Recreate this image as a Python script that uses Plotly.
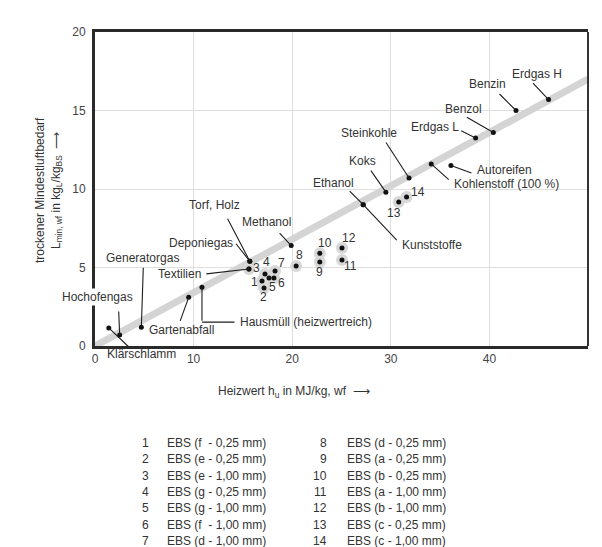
import plotly.graph_objects as go

# ---------------- data ----------------
fuel_names = ["Erdgas H", "Benzin", "Benzol", "Erdgas L", "Steinkohle", "Koks",
              "Ethanol", "Kunststoffe", "Kohlenstoff (100 %)", "Autoreifen",
              "Methanol", "Torf, Holz", "Deponiegas", "Textilien", "Generatorgas",
              "Hochofengas", "Klärschlamm", "Gartenabfall", "Hausmüll (heizwertreich)"]
fuel_hu = [46.0, 42.7, 40.4, 38.6, 31.85, 29.5, 27.2, 27.2, 34.1, 36.1,
           19.9, 15.7, 15.7, 15.6, 4.7, 2.5, 1.4, 9.5, 10.85]
fuel_lmin = [15.7, 15.0, 13.6, 13.25, 10.7, 9.8, 9.0, 9.0, 11.6, 11.5,
             6.4, 5.4, 5.4, 4.9, 1.2, 0.7, 1.15, 3.1, 3.75]

ebs_ids = list(range(1, 15))
ebs_desc = ["EBS (f  - 0,25 mm)", "EBS (e - 0,25 mm)", "EBS (e - 1,00 mm)",
            "EBS (g - 0,25 mm)", "EBS (g - 1,00 mm)", "EBS (f  - 1,00 mm)",
            "EBS (d - 1,00 mm)", "EBS (d - 0,25 mm)", "EBS (a - 0,25 mm)",
            "EBS (b - 0,25 mm)", "EBS (a - 1,00 mm)", "EBS (b - 1,00 mm)",
            "EBS (c - 0,25 mm)", "EBS (c - 1,00 mm)"]
ebs_hu = [16.94, 17.14, 15.62, 17.24, 17.65, 18.15, 18.26, 20.4, 22.8, 22.8,
          25.05, 25.05, 30.8, 31.6]
ebs_lmin = [4.14, 3.69, 4.90, 4.59, 4.33, 4.33, 4.78, 5.1, 5.35, 5.9,
            5.48, 6.24, 9.17, 9.49]

trend_hu = [0, 50]
trend_lmin = [0, 17]

x_ticks = [0, 10, 20, 30, 40]
y_ticks = [0, 5, 10, 15, 20]

# ---------------- layout helpers (pixel offsets, style only) ----------------
FONT = "Liberation Sans, Arial, Helvetica, sans-serif"
TXT = "#333333"
LINE = "#1e1e1e"

# name: (tail dx, tail dy, label dx, label dy, anchor)
label_layout = {
    "Erdgas H": (-17, -18, -12, -26, "center"),
    "Benzin": (-18, -18, -29, -27, "center"),
    "Benzol": (-28, -16, -30, -23, "center"),
    "Erdgas L": (-16, -8, -15, -11, "right"),
    "Steinkohle": (-24, -37, -40, -45, "center"),
    "Koks": (-16, -23, -23, -31, "center"),
    "Ethanol": (-15, -15, -30, -22, "center"),
    "Kunststoffe": (35, 37, 37, 40, "left"),
    "Kohlenstoff (100 %)": (19, 17, 21, 20, "left"),
    "Autoreifen": (22, 8, 24, 5, "left"),
    "Methanol": (-13, -14, -25, -24, "center"),
    "Torf, Holz": (-23, -44, -35, -56, "center"),
    "Deponiegas": (-15, -19, -15, -18, "right"),
    "Textilien": (-44, 5, -46, 5, "right"),
    "Generatorgas": (2, -61, 1, -69, "center"),
    "Hochofengas": (-1, -25, -22, -38, "center"),
    "Klärschlamm": (21, 20, 33, 26, "center"),
    "Gartenabfall": (-9, 25, -7, 33, "center"),
    "Hausmüll (heizwertreich)": (0, 35, 36, 35, "left"),
}

ebs_label_offset = [(-8, 1), (-1, 9), (7, -1), (2, -12), (3, 9), (8, 5), (6, -8),
                    (3, -11), (0, 10), (5, -10), (9, 6), (7, -10), (-5, 11), (11, -5)]

# page body has an 8px margin: figure coordinates = screen - 8
OFF = 8
PL, PT, PW, PH = 95 - OFF, 32 - OFF, 493, 314
FIG_W, FIG_H = 602 - OFF, 547 - OFF


def px2paper(px, py):
    """screen pixel -> paper coords"""
    return (px - OFF - PL) / PW, (PT + PH - (py - OFF)) / PH


fig = go.Figure()

fig.add_trace(go.Scatter(x=trend_hu, y=trend_lmin, mode="lines",
                         line=dict(color="#d4d4d4", width=7), hoverinfo="skip",
                         showlegend=False))
fig.add_trace(go.Scatter(x=ebs_hu, y=ebs_lmin, mode="markers",
                         marker=dict(size=12, color="#d8d8d8"), showlegend=False))
fig.add_trace(go.Scatter(x=ebs_hu, y=ebs_lmin, mode="markers",
                         marker=dict(size=5, color="#111111"), showlegend=False))
fig.add_trace(go.Scatter(x=fuel_hu, y=fuel_lmin, mode="markers",
                         marker=dict(size=5, color="#111111"), showlegend=False))

ann = []
for name, hx, ly in zip(fuel_names, fuel_hu, fuel_lmin):
    tdx, tdy, ldx, ldy, anc = label_layout[name]
    ann.append(dict(x=hx, y=ly, xref="x", yref="y", text="", showarrow=True,
                    ax=tdx, ay=tdy, arrowhead=0, arrowwidth=1.1, arrowcolor=LINE,
                    standoff=0, startstandoff=0))
    extra = {}
    if name == "Hochofengas":
        extra = dict(bgcolor="white", borderpad=1)
    ann.append(dict(x=hx, y=ly, xref="x", yref="y", text=name, showarrow=False,
                    xshift=ldx, yshift=-ldy, xanchor=anc, yanchor="middle",
                    font=dict(family=FONT, size=12, color=TXT), **extra))
    if name == "Hausmüll (heizwertreich)":
        ann.append(dict(x=hx, y=ly, xref="x", yref="y", text="", showarrow=True,
                        ax=34, ay=0, yshift=-tdy, arrowhead=0, arrowwidth=1.1,
                        arrowcolor=LINE, standoff=0))

for i, (hx, ly) in enumerate(zip(ebs_hu, ebs_lmin)):
    dx, dy = ebs_label_offset[i]
    ann.append(dict(x=hx, y=ly, xref="x", yref="y", text=str(ebs_ids[i]),
                    showarrow=False, xshift=dx, yshift=-dy,
                    xanchor="center", yanchor="middle",
                    font=dict(family=FONT, size=12, color=TXT)))

# axis titles
tx, ty = px2paper(294, 392)
ann.append(dict(x=tx, y=ty, xref="paper", yref="paper", showarrow=False,
                xanchor="center", yanchor="middle",
                text="Heizwert h<sub>u</sub> in MJ/kg, wf  ⟶",
                font=dict(family=FONT, size=12, color=TXT)))
tx, ty = px2paper(48, 190)
ann.append(dict(x=tx, y=ty, xref="paper", yref="paper", showarrow=False,
                textangle=-90, xanchor="center", yanchor="middle",
                text="trockener Mindestluftbedarf<br>L<sub>min, wf</sub> in kg<sub>L</sub>/kg<sub>BS</sub>  ⟶",
                font=dict(family=FONT, size=12, color=TXT)))

# EBS list
for i in range(14):
    col = i // 7
    row = i % 7
    py = 443 + row * 16.3
    nx = 151 if col == 0 else 329
    dxp = 165 if col == 0 else 345
    x1, y1 = px2paper(nx, py)
    x2, _ = px2paper(dxp, py)
    ann.append(dict(x=x1, y=y1, xref="paper", yref="paper", showarrow=False,
                    text=str(ebs_ids[i]), xanchor="right", yanchor="middle",
                    font=dict(family=FONT, size=12, color=TXT)))
    ann.append(dict(x=x2, y=y1, xref="paper", yref="paper", showarrow=False,
                    text=ebs_desc[i], xanchor="left", yanchor="middle",
                    font=dict(family=FONT, size=12, color=TXT)))

shapes = [
    dict(type="line", xref="paper", yref="paper", x0=1, x1=1, y0=0, y1=1,
         line=dict(color="#333333", width=2)),
]

fig.update_layout(
    width=FIG_W, height=FIG_H,
    margin=dict(l=PL, r=FIG_W - PL - PW, t=PT, b=FIG_H - PT - PH),
    paper_bgcolor="white", plot_bgcolor="white",
    showlegend=False,
    annotations=ann, shapes=shapes,
    font=dict(family=FONT, size=12, color=TXT),
    xaxis=dict(range=[0, 50], tickvals=x_ticks, showgrid=True, gridcolor="#dedede",
               gridwidth=1, zeroline=False, showline=True, linewidth=3,
               linecolor="#2a2a2a", mirror=True, ticks="",
               tickfont=dict(family=FONT, size=12, color="#444444")),
    yaxis=dict(range=[0, 20], tickvals=y_ticks, showgrid=True, gridcolor="#dedede",
               gridwidth=1, zeroline=False, showline=True, linewidth=3,
               linecolor="#2a2a2a", ticks="", ticklabelstandoff=4,
               tickfont=dict(family=FONT, size=12, color="#444444")),
)

fig.write_html("out.html")
